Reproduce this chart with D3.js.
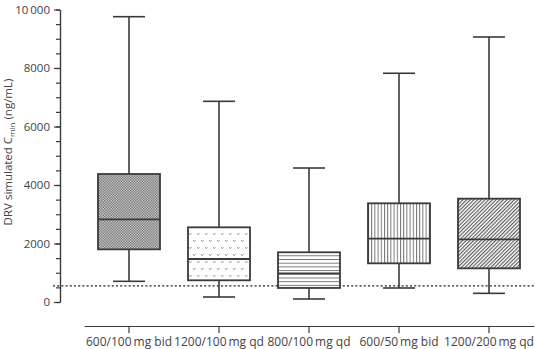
<!DOCTYPE html>
<html><head><meta charset="utf-8">
<script src="https://cdn.jsdelivr.net/npm/d3@7"></script>
<style>
html,body{margin:0;padding:0;background:#fff;}
svg{display:block;font-family:"Open Sans","Noto Sans",sans-serif;}
</style></head>
<body>
<svg id="chart" width="535" height="349"></svg>
<script>
const categories = ["600/100\u2009mg bid","1200/100\u2009mg qd","800/100\u2009mg qd","600/50\u2009mg bid","1200/200\u2009mg qd"];
const whiskerLow  = [707, 171, 103, 479, 296];
const q1          = [1800, 742, 480, 1322, 1151];
const median      = [2827, 1470, 981, 2165, 2143];
const q3          = [4376, 2553, 1700, 3374, 3533];
const whiskerHigh = [9754, 6861, 4581, 7820, 9060];
const patterns    = ["checker","vees","hlines","vlines","diag"];
const yTicks = [0, 2000, 4000, 6000, 8000, 10000];
const yMinorTicks = d3.range(0, 10001, 500);
const threshold = 550;

const svg = d3.select("#chart");
const ink = "#3a3a3a";

const defs = svg.append("defs");
let p = defs.append("pattern").attr("id","checker").attr("patternUnits","userSpaceOnUse").attr("width",2.6).attr("height",2.6);
p.append("rect").attr("width",2.6).attr("height",2.6).attr("fill","#e4e4e4");
p.append("rect").attr("width",1.3).attr("height",1.3).attr("fill","#5a5a5a");
p.append("rect").attr("x",1.3).attr("y",1.3).attr("width",1.3).attr("height",1.3).attr("fill","#5a5a5a");
p = defs.append("pattern").attr("id","vees").attr("patternUnits","userSpaceOnUse").attr("width",8).attr("height",14);
p.append("rect").attr("width",8).attr("height",14).attr("fill","#fff");
p.append("path").attr("d","M1,2 l1.3,1.8 l1.3,-1.8 M5,9 l1.3,1.8 l1.3,-1.8").attr("fill","none").attr("stroke","#8a8a8a").attr("stroke-width",0.8);
p = defs.append("pattern").attr("id","hlines").attr("patternUnits","userSpaceOnUse").attr("width",6).attr("height",3.7);
p.append("rect").attr("width",6).attr("height",3.7).attr("fill","#fff");
p.append("line").attr("x1",0).attr("x2",6).attr("y1",0.5).attr("y2",0.5).attr("stroke","#666").attr("stroke-width",0.9);
p = defs.append("pattern").attr("id","vlines").attr("patternUnits","userSpaceOnUse").attr("width",3.2).attr("height",6);
p.append("rect").attr("width",3.2).attr("height",6).attr("fill","#fff");
p.append("line").attr("y1",0).attr("y2",6).attr("x1",0.5).attr("x2",0.5).attr("stroke","#666").attr("stroke-width",0.9);
p = defs.append("pattern").attr("id","diag").attr("patternUnits","userSpaceOnUse").attr("width",2.6).attr("height",2.6).attr("patternTransform","rotate(45)");
p.append("rect").attr("width",2.6).attr("height",2.6).attr("fill","#fff");
p.append("line").attr("y1",0).attr("y2",2.6).attr("x1",0.6).attr("x2",0.6).attr("stroke","#555").attr("stroke-width",1.1);

const y = d3.scaleLinear().domain([0, 10000]).range([302, 9.5]);
const x = d3.scaleBand().domain(categories).range([84, 534]).padding(0);
const cx = d => x(d) + x.bandwidth() / 2;
const boxW = 62, capW = 32;
const fontFam = "'Open Sans','Noto Sans',sans-serif";

const yAxisMinor = d3.axisLeft(y).tickValues(yMinorTicks).tickSize(4).tickSizeOuter(0).tickFormat("");
const gyMinor = svg.append("g").attr("transform","translate(60,0)").call(yAxisMinor);
gyMinor.selectAll("path,line").attr("stroke", ink).attr("stroke-width",1.2);

const yAxis = d3.axisLeft(y).tickValues(yTicks).tickSize(6).tickSizeOuter(0).tickPadding(4)
  .tickFormat(d => d === 10000 ? "10\u2009000" : String(d));
const gy = svg.append("g").attr("transform","translate(60,0)").call(yAxis);
gy.select(".domain").attr("stroke", ink).attr("stroke-width",1.2);
gy.selectAll("line").attr("stroke", ink).attr("stroke-width",1.2);
gy.selectAll("text").attr("fill","#444").style("font-size","11.5px").style("font-family",fontFam);

const xAxis = d3.axisBottom(x).tickSize(7).tickSizeOuter(0).tickPadding(4);
const gx = svg.append("g").attr("transform","translate(0,326)").call(xAxis);
gx.select(".domain").attr("stroke", ink).attr("stroke-width",1.2);
gx.selectAll("line").attr("stroke", ink).attr("stroke-width",1.2);
gx.selectAll("text").attr("fill","#444").style("font-size","12px").style("font-family",fontFam);

const lab = svg.append("text").attr("transform","translate(12,152) rotate(-90)")
  .attr("text-anchor","middle").attr("fill","#444").style("font-size","11.5px").style("font-family",fontFam);
lab.append("tspan").text("DRV simulated C");
lab.append("tspan").attr("dy",3).style("font-size","8px").text("min");
lab.append("tspan").attr("dy",-3).text(" (ng/mL)");

svg.append("line").attr("x1",53).attr("x2",535).attr("y1",y(threshold)).attr("y2",y(threshold))
  .attr("stroke","#222").attr("stroke-width",1.4).attr("stroke-dasharray","2,2.2");

const g = svg.append("g");
categories.forEach((c, i) => {
  const xc = cx(c);
  const gg = g.append("g");
  gg.append("line").attr("x1",xc).attr("x2",xc).attr("y1",y(q3[i])).attr("y2",y(whiskerHigh[i])).attr("stroke",ink).attr("stroke-width",1.6);
  gg.append("line").attr("x1",xc).attr("x2",xc).attr("y1",y(q1[i])).attr("y2",y(whiskerLow[i])).attr("stroke",ink).attr("stroke-width",1.6);
  gg.append("line").attr("x1",xc-capW/2).attr("x2",xc+capW/2).attr("y1",y(whiskerHigh[i])).attr("y2",y(whiskerHigh[i])).attr("stroke",ink).attr("stroke-width",1.6);
  gg.append("line").attr("x1",xc-capW/2).attr("x2",xc+capW/2).attr("y1",y(whiskerLow[i])).attr("y2",y(whiskerLow[i])).attr("stroke",ink).attr("stroke-width",1.6);
  gg.append("rect").attr("x",xc-boxW/2).attr("width",boxW)
    .attr("y",y(q3[i])).attr("height",y(q1[i]) - y(q3[i]))
    .attr("fill",`url(#${patterns[i]})`).attr("stroke",ink).attr("stroke-width",1.8);
  gg.append("line").attr("x1",xc-boxW/2).attr("x2",xc+boxW/2).attr("y1",y(median[i])).attr("y2",y(median[i])).attr("stroke",ink).attr("stroke-width",1.8);
});
</script>
</body></html>
